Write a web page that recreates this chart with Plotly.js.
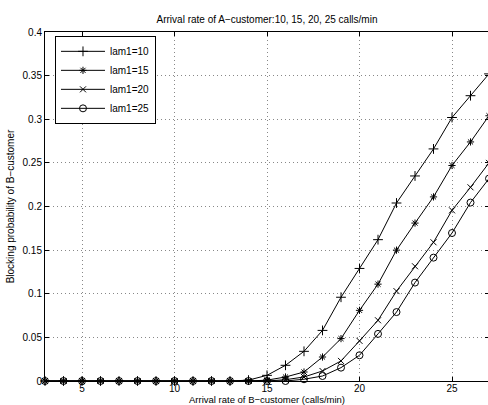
<!DOCTYPE html>
<html>
<head>
<meta charset="utf-8">
<script src="https://cdn.plot.ly/plotly-3.0.1.min.js"></script>
<style>
html,body{margin:0;padding:0;background:#fff;overflow:hidden;}
#chart{width:490px;height:405px;}
</style>
</head>
<body>
<div id="chart"></div>
<script>
const xValues = [3,4,5,6,7,8,9,10,11,12,13,14,15,16,17,18,19,20,21,22,23,24,25,26,27];
const lam10 = [0,0,0,0,0,0,0,0,0,0,0,0.001,0.0065,0.018,0.034,0.058,0.096,0.129,0.162,0.204,0.235,0.266,0.302,0.327,0.352];
const lam15 = [0,0,0,0,0,0,0,0,0,0,0,0,0.001,0.0046,0.0103,0.0275,0.0486,0.081,0.111,0.150,0.181,0.211,0.247,0.274,0.304];
const lam20 = [0,0,0,0,0,0,0,0,0,0,0,0,0,0.0015,0.0046,0.0115,0.023,0.046,0.0696,0.103,0.1315,0.159,0.1956,0.222,0.25];
const lam25 = [0,0,0,0,0,0,0,0,0,0,0,0,0,0,0.002,0.0057,0.0153,0.0295,0.054,0.079,0.1128,0.1414,0.1696,0.2045,0.232];
const seriesNames = ["lam1=10","lam1=15","lam1=20","lam1=25"];
const xTicks = [5,10,15,20,25];
const yTicks = [0,0.05,0.1,0.15,0.2,0.25,0.3,0.35,0.4];
const yTickText = ["0","0.05","0.1","0.15","0.2","0.25","0.3","0.35","0.4"];
const xTitle = "Arrival rate of B−customer (calls/min)";

const symbols = ["cross-thin-open","asterisk-open","x-thin-open","circle-open"];
const sizes = [7,6,6,7];
const allY = [lam10, lam15, lam20, lam25];

const traces = allY.map((ys, i) => ({
  x: xValues, y: ys, name: seriesNames[i], type: "scatter", mode: "lines+markers",
  line: {color: "#000", width: 1},
  marker: {symbol: symbols[i], size: sizes[i], color: "#000", line: {color: "#000", width: 1}},
  cliponaxis: false
}));

const font = {family: "Liberation Sans, Arial, sans-serif", size: 10, color: "#000"};
const layout = {
  width: 490, height: 405,
  margin: {l: 45, r: 1, t: 32, b: 24},
  paper_bgcolor: "#fff", plot_bgcolor: "#fff",
  font: font,
  showlegend: true,
  title: {text: "Arrival rate of A−customer:10, 15, 20, 25 calls/min", font: {family: font.family, size: 10, color: "#000"}, x: 0.5, xref: "paper", y: 0.951, yanchor: "middle"},
  xaxis: {
    range: [3, 27], tickvals: xTicks, ticktext: xTicks.map(String),
    ticks: "inside", ticklen: 4, tickcolor: "#000", tickwidth: 1,
    showline: true, linecolor: "#000", linewidth: 1, mirror: "ticks",
    showgrid: true, gridcolor: "#888", griddash: "1px,3px", gridwidth: 1,
    zeroline: false, tickfont: {size: 10}, ticklabelstandoff: -2
  },
  yaxis: {
    range: [0, 0.4], tickvals: yTicks, ticktext: yTickText,
    ticks: "inside", ticklen: 4, tickcolor: "#000", tickwidth: 1,
    showline: true, linecolor: "#000", linewidth: 1, mirror: "ticks",
    showgrid: true, gridcolor: "#888", griddash: "1px,3px", gridwidth: 1,
    zeroline: false, tickfont: {size: 10},
    title: {text: "Blocking probability of B−customer", font: {size: 10}, standoff: 6}
  },
  annotations: [{
    text: xTitle, xref: "paper", yref: "paper", x: 0.5, y: 0, xanchor: "center", yanchor: "top",
    yshift: -12, showarrow: false, font: {size: 9.5, color: "#000"}, borderpad: 0
  }],
  legend: {
    x: 0.0225, y: 0.989, xanchor: "left", yanchor: "top",
    bgcolor: "#fff", bordercolor: "#000", borderwidth: 1,
    font: {size: 10}, itemwidth: 44, tracegroupgap: 0, entrywidth: 62
  }
};
Plotly.newPlot("chart", traces, layout, {displayModeBar: false, staticPlot: true});
</script>
</body>
</html>
